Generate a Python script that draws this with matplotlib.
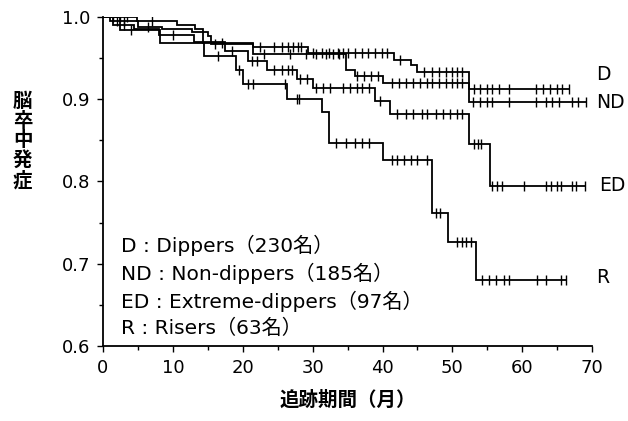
import numpy as np
import matplotlib
matplotlib.use("Agg")
import matplotlib.pyplot as plt
from matplotlib.ticker import MultipleLocator, FormatStrFormatter

plt.rcParams['font.family'] = ['DejaVu Sans', 'Noto Sans CJK JP']

# Kaplan-Meier step data: event times (months) and survival after each step
D_times = [0, 4.9, 10.6, 13.1, 14.3, 21.4, 29.3, 41.7, 44.1, 45.0, 52.4]
D_surv = [1.0, 0.995, 0.990, 0.985, 0.968, 0.963, 0.956, 0.948, 0.941, 0.933, 0.912]
D_end = 66.7
D_censor = [1.5, 2.5, 3.5, 7.0, 17.0, 22.5, 24.4, 25.6, 26.5, 27.2, 27.9, 28.4,
            30.0, 31.3, 32.4, 33.6, 34.3, 35.0, 36.0, 37.0, 37.9, 38.9, 39.9, 40.7,
            42.5, 46.0, 47.1, 48.1, 49.1, 50.0, 50.7, 51.4, 53.1, 53.9, 54.9, 55.7,
            56.7, 58.1, 62.0, 62.9, 63.9, 64.9, 65.7, 66.7]

ND_times = [0, 1.0, 5.0, 8.4, 12.7, 15.0, 15.5, 21.4, 34.8, 36.0, 40.0, 52.4]
ND_surv = [1.0, 0.995, 0.988, 0.985, 0.981, 0.977, 0.967, 0.955, 0.935, 0.928, 0.920, 0.896]
ND_end = 69.1
ND_censor = [2.0, 3.0, 6.5, 16.0, 23.0, 26.8, 29.1, 30.5, 31.9, 32.9, 33.8, 36.4,
             37.4, 38.4, 39.3, 41.4, 42.4, 43.4, 44.3, 45.3, 46.3, 47.1, 48.1, 49.1,
             50.0, 50.7, 51.4, 52.9, 53.9, 54.9, 55.7, 58.1, 62.0, 63.4, 64.3, 65.3,
             67.1, 67.9, 69.1]

ED_times = [0, 1.5, 4.5, 8.0, 13.0, 17.4, 20.8, 23.4, 27.7, 30.0, 38.9, 41.0, 52.4, 55.4]
ED_surv = [1.0, 0.990, 0.985, 0.978, 0.969, 0.959, 0.946, 0.936, 0.924, 0.914,
           0.898, 0.882, 0.845, 0.795]
ED_end = 68.9
ED_censor = [3.0, 10.0, 18.5, 21.3, 22.1, 24.5, 25.6, 26.5, 27.1, 28.2, 29.2, 30.5,
             31.5, 32.5, 34.3, 35.3, 36.3, 37.1, 38.1, 39.6, 42.0, 43.4, 44.3, 45.6,
             46.4, 47.7, 48.6, 49.6, 50.6, 51.4, 53.1, 53.6, 54.1, 55.7, 56.4, 57.1,
             60.3, 63.4, 64.1, 64.9, 65.6, 67.1, 67.7, 68.9]

R_times = [0, 2.5, 8.1, 14.5, 19.0, 20.0, 26.4, 31.4, 32.3, 40.1, 47.1, 49.3, 53.4]
R_surv = [1.0, 0.984, 0.968, 0.952, 0.935, 0.918, 0.900, 0.884, 0.847, 0.826,
          0.762, 0.727, 0.680]
R_end = 66.2
R_censor = [4.0, 16.5, 19.5, 20.7, 21.5, 26.0, 27.7, 28.1, 33.4, 34.8, 36.0, 37.0,
            38.1, 41.3, 42.1, 43.1, 44.1, 45.0, 46.3, 47.6, 48.2, 50.6, 51.3, 52.0,
            52.7, 54.3, 55.3, 56.3, 57.4, 58.1, 62.1, 63.4, 65.6, 66.2]

group_labels = ["D", "ND", "ED", "R"]
legend_lines = ["D : Dippers（230名）", "ND : Non-dippers（185名）",
                "ED : Extreme-dippers（97名）", "R : Risers（63名）"]
x_label = "追跡期間（月）"
y_label = "脳卒中発症"

groups = [
    (D_times, D_surv, D_end, D_censor),
    (ND_times, ND_surv, ND_end, ND_censor),
    (ED_times, ED_surv, ED_end, ED_censor),
    (R_times, R_surv, R_end, R_censor),
]

fig = plt.figure(figsize=(6.28, 4.21), dpi=100)
ax = fig.add_axes([0.164, 0.178, 0.779, 0.782])

for times, surv, end, cens in groups:
    t = np.array(times + [end])
    s = np.array(surv + [surv[-1]])
    ax.step(t, s, where='post', color='black', lw=1.3, solid_joinstyle='miter')
    idx = np.searchsorted(np.array(times), np.array(cens), side='right') - 1
    cy = np.array(surv)[idx]
    ax.plot(cens, cy, linestyle='none', marker='|', markersize=7,
            markeredgewidth=1.0, color='black')

# curve labels at the right end
label_pos = [(70.6, 0.930), (70.6, 0.896), (71.0, 0.795), (70.6, 0.683)]
for lab, (lx, ly) in zip(group_labels, label_pos):
    ax.text(lx, ly, lab, fontsize=13.5, ha='left', va='center', clip_on=False)

# legend block
legend_y = [0.722, 0.688, 0.654, 0.621]
for line, ly in zip(legend_lines, legend_y):
    ax.text(2.6, ly, line, fontsize=14.5, ha='left', va='center')

ax.set_xlim(0, 70)
ax.set_ylim(0.6, 1.0)
ax.xaxis.set_major_locator(MultipleLocator(10))
ax.xaxis.set_minor_locator(MultipleLocator(5))
ax.yaxis.set_major_locator(MultipleLocator(0.1))
ax.yaxis.set_minor_locator(MultipleLocator(0.05))
ax.yaxis.set_major_formatter(FormatStrFormatter('%.1f'))
ax.tick_params(which='major', direction='out', length=4, width=1, labelsize=13, pad=5)
ax.tick_params(which='minor', direction='out', length=3, width=1)
for sp in ['top', 'right']:
    ax.spines[sp].set_visible(False)
for sp in ['left', 'bottom']:
    ax.spines[sp].set_linewidth(1.3)

ax.set_xlabel(x_label, fontsize=14, fontweight='bold', labelpad=10)
fig.text(0.036, 0.665, "\n".join(y_label), fontsize=14, fontweight='bold',
         ha='center', va='center', linespacing=1.05)

fig.savefig("out.png", dpi=100)
